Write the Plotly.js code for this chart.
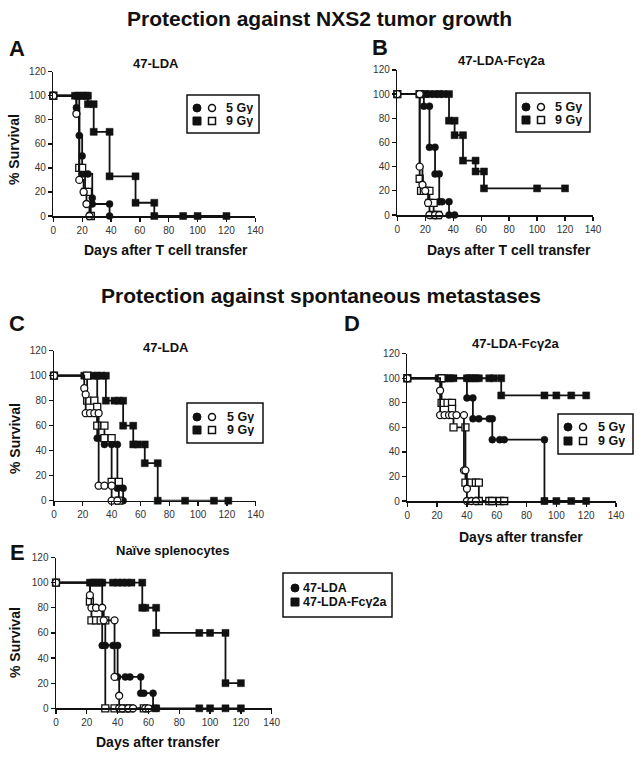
<!DOCTYPE html>
<html>
<head>
<meta charset="utf-8">
<script src="https://cdn.plot.ly/plotly-3.0.1.min.js"></script>
<style>html,body{margin:0;padding:0;background:#fff;}#chart{width:643px;height:758px;}</style>
</head>
<body>
<div id="chart"></div>
<script>
// ---------- DATA (days, % survival) ----------
const xTicks = [0, 20, 40, 60, 80, 100, 120, 140];
const yTicks = [0, 20, 40, 60, 80, 100, 120];

// Panel A: 47-LDA, NXS2 tumor growth
const A_circFilled_x = [0, 16, 16, 18, 20, 20, 24, 27, 27, 39, 39];
const A_circFilled_y = [100, 100, 90, 67, 50, 35, 35, 15, 10, 10, 0];
const A_circOpen_x = [0, 16, 18, 21, 23, 25];
const A_circOpen_y = [100, 85, 30, 20, 10, 0];
const A_sqFilled_x = [0, 15, 17, 19, 21, 23, 24, 24, 28, 28, 39, 39, 57, 57, 70, 70, 90, 100, 120];
const A_sqFilled_y = [100, 100, 100, 100, 100, 100, 100, 93, 93, 70, 70, 33, 33, 11, 11, 0, 0, 0, 0];
const A_sqOpen_x = [0, 18, 20, 22, 24, 26];
const A_sqOpen_y = [100, 40, 40, 20, 20, 0];

// Panel B: 47-LDA-Fcγ2a, NXS2 tumor growth
const B_circFilled_x = [0, 19, 19, 23, 23, 27, 27, 30, 30, 32, 37, 37, 41];
const B_circFilled_y = [100, 100, 90, 90, 56, 56, 34, 34, 11, 11, 11, 0, 0];
const B_circOpen_x = [0, 16, 16, 18, 20, 22, 23, 27, 30];
const B_circOpen_y = [100, 100, 40, 25, 20, 10, 0, 0, 0];
const B_sqFilled_x = [0, 16, 20, 23, 27, 30, 33, 37, 37, 41, 41, 47, 47, 56, 56, 62, 62, 100, 120];
const B_sqFilled_y = [100, 100, 100, 100, 100, 100, 100, 100, 78, 78, 66, 66, 45, 45, 36, 36, 22, 22, 22];
const B_sqOpen_x = [0, 16, 16, 17, 19, 21, 23, 23, 26, 26, 29];
const B_sqOpen_y = [100, 100, 30, 20, 20, 20, 20, 10, 10, 0, 0];

// Panel C: 47-LDA, spontaneous metastases
const C_circFilled_x = [0, 30, 30, 33, 35, 40, 44, 44, 48, 48];
const C_circFilled_y = [100, 100, 50, 50, 45, 45, 45, 10, 10, 0];
const C_circOpen_x = [0, 21, 22, 22, 25, 28, 31, 31, 35, 40, 40, 44];
const C_circOpen_y = [100, 90, 85, 70, 70, 70, 70, 12, 12, 12, 0, 0];
const C_sqFilled_x = [0, 21, 24, 27, 30, 33, 36, 36, 42, 45, 48, 48, 55, 55, 58, 63, 63, 72, 72, 91, 111, 121];
const C_sqFilled_y = [100, 100, 100, 100, 100, 100, 100, 80, 80, 80, 80, 60, 60, 45, 45, 45, 30, 30, 0, 0, 0, 0];
const C_sqOpen_x = [0, 23, 23, 28, 30, 30, 35, 35, 40, 40, 45, 45];
const C_sqOpen_y = [100, 100, 80, 80, 75, 60, 60, 50, 50, 15, 15, 0];

// Panel D: 47-LDA-Fcγ2a, spontaneous metastases
const D_circFilled_x = [0, 40, 40, 44, 44, 48, 55, 57, 57, 62, 65, 92, 92];
const D_circFilled_y = [100, 100, 84, 84, 67, 67, 67, 67, 50, 50, 50, 50, 0];
const D_circOpen_x = [0, 22, 22, 25, 28, 30, 33, 38, 38, 39, 40, 40, 43, 46];
const D_circOpen_y = [100, 90, 70, 70, 70, 70, 70, 70, 25, 25, 10, 0, 0, 0];
const D_sqFilled_x = [0, 21, 23, 25, 27, 29, 31, 40, 42, 44, 46, 48, 55, 58, 63, 63, 92, 100, 110, 120];
const D_sqFilled_y = [100, 100, 100, 100, 100, 100, 100, 100, 100, 100, 100, 100, 100, 100, 100, 86, 86, 86, 86, 86];
const D_sqOpen_x = [0, 23, 23, 27, 30, 30, 31, 39, 39, 43, 46, 48, 48, 55, 57, 62, 65];
const D_sqOpen_y = [100, 100, 80, 80, 80, 75, 60, 60, 15, 15, 15, 15, 0, 0, 0, 0, 0];
const D_bottom_x = [92, 100, 110, 120];
const D_bottom_y = [0, 0, 0, 0];

// Panel E: naive splenocytes
const E_circFilled_x = [0, 30, 30, 32, 37, 40, 40, 45, 48, 55, 55, 57, 63, 63, 65];
const E_circFilled_y = [100, 100, 50, 50, 50, 50, 25, 25, 25, 25, 12, 12, 12, 0, 0];
const E_circOpen_x = [0, 22, 23, 26, 30, 31, 38, 38, 41, 41, 43, 47, 50, 58, 60];
const E_circOpen_y = [100, 90, 80, 80, 80, 70, 70, 25, 10, 0, 0, 0, 0, 0, 0];
const E_sqFilled_x = [0, 22, 24, 26, 28, 30, 37, 40, 43, 46, 49, 56, 56, 58, 65, 65, 93, 100, 110, 110, 120];
const E_sqFilled_y = [100, 100, 100, 100, 100, 100, 100, 100, 100, 100, 100, 100, 80, 80, 80, 60, 60, 60, 60, 20, 20];
const E_sqOpen_x = [0, 22, 23, 26, 29, 32, 32, 38, 42, 45, 48, 57];
const E_sqOpen_y = [100, 85, 70, 70, 70, 70, 0, 0, 0, 0, 0, 0];
const E_bottom_x = [65, 93, 100, 110, 120];
const E_bottom_y = [0, 0, 0, 0, 0];

const legendLabels = ['5 Gy', '9 Gy'];
const legendLabelsE = ['47-LDA', '47-LDA-Fcγ2a'];

// ---------- LAYOUT HELPERS ----------
const W = 643, H = 758;
const px = v => v / W;
const py = v => 1 - v / H;
const FONT = 'Arial, "Liberation Sans", Helvetica, sans-serif';

function style(kind) {
  const filled = kind.indexOf('Filled') >= 0;
  const sym = kind.indexOf('circ') === 0 ? 'circle' : 'square';
  return {
    symbol: sym, size: 7,
    color: filled ? '#111' : '#fff',
    line: {color: '#111', width: filled ? 0.5 : 1.3}
  };
}
function tr(x, y, kind, xa, ya) {
  return {
    type: 'scatter', mode: 'lines+markers', x: x, y: y,
    xaxis: xa, yaxis: ya, cliponaxis: false, showlegend: false,
    line: {shape: 'hv', color: '#111', width: 1.8},
    marker: style(kind), hoverinfo: 'x+y'
  };
}

const traces = [
  tr(A_sqFilled_x, A_sqFilled_y, 'sqFilled', 'x', 'y'),
  tr(A_circFilled_x, A_circFilled_y, 'circFilled', 'x', 'y'),
  tr(A_sqOpen_x, A_sqOpen_y, 'sqOpen', 'x', 'y'),
  tr(A_circOpen_x, A_circOpen_y, 'circOpen', 'x', 'y'),

  tr(B_sqFilled_x, B_sqFilled_y, 'sqFilled', 'x2', 'y2'),
  tr(B_circFilled_x, B_circFilled_y, 'circFilled', 'x2', 'y2'),
  tr(B_sqOpen_x, B_sqOpen_y, 'sqOpen', 'x2', 'y2'),
  tr(B_circOpen_x, B_circOpen_y, 'circOpen', 'x2', 'y2'),

  tr(C_sqFilled_x, C_sqFilled_y, 'sqFilled', 'x3', 'y3'),
  tr(C_circFilled_x, C_circFilled_y, 'circFilled', 'x3', 'y3'),
  tr(C_sqOpen_x, C_sqOpen_y, 'sqOpen', 'x3', 'y3'),
  tr(C_circOpen_x, C_circOpen_y, 'circOpen', 'x3', 'y3'),

  tr(D_sqFilled_x, D_sqFilled_y, 'sqFilled', 'x4', 'y4'),
  tr(D_circFilled_x, D_circFilled_y, 'circFilled', 'x4', 'y4'),
  tr(D_bottom_x, D_bottom_y, 'sqFilled', 'x4', 'y4'),
  tr(D_sqOpen_x, D_sqOpen_y, 'sqOpen', 'x4', 'y4'),
  tr(D_circOpen_x, D_circOpen_y, 'circOpen', 'x4', 'y4'),

  tr(E_sqFilled_x, E_sqFilled_y, 'sqFilled', 'x5', 'y5'),
  tr(E_circFilled_x, E_circFilled_y, 'circFilled', 'x5', 'y5'),
  tr(E_bottom_x, E_bottom_y, 'sqFilled', 'x5', 'y5'),
  tr(E_sqOpen_x, E_sqOpen_y, 'sqOpen', 'x5', 'y5'),
  tr(E_circOpen_x, E_circOpen_y, 'circOpen', 'x5', 'y5')
];

function xa(d0, d1, anchor) {
  return {
    domain: [px(d0), px(d1)], anchor: anchor, range: [0, 140],
    tickvals: xTicks, ticktext: xTicks.map(String),
    ticks: 'outside', ticklen: 4, tickwidth: 1.3, tickcolor: '#111',
    showline: true, linecolor: '#111', linewidth: 1.5,
    showgrid: false, zeroline: false,
    tickfont: {family: FONT, size: 10, color: '#333'}
  };
}
function ya(d0, d1, anchor) {
  return {
    domain: [py(d0), py(d1)], anchor: anchor, range: [0, 120],
    tickvals: yTicks, ticktext: yTicks.map(String),
    ticks: 'outside', ticklen: 4, tickwidth: 1.3, tickcolor: '#111',
    showline: true, linecolor: '#111', linewidth: 1.5,
    showgrid: false, zeroline: false,
    tickfont: {family: FONT, size: 10, color: '#333'}
  };
}

function ann(text, x, y, size, opts) {
  return Object.assign({
    text: text, x: px(x), y: py(y), xref: 'paper', yref: 'paper',
    showarrow: false, xanchor: 'center', yanchor: 'middle',
    font: {family: FONT, size: size, color: '#111', weight: 'bold'}
  }, opts || {});
}

const annotations = [
  ann('<b>Protection against NXS2 tumor growth</b>', 319, 19, 21),
  ann('<b>Protection against spontaneous metastases</b>', 321, 296, 21),
  ann('<b>A</b>', 17, 48, 22),
  ann('<b>B</b>', 380, 47, 22),
  ann('<b>C</b>', 17, 323, 22),
  ann('<b>D</b>', 352, 323, 22),
  ann('<b>E</b>', 17, 552, 22),
  ann('<b>47-LDA</b>', 156, 63, 13),
  ann('<b>47-LDA-Fcγ2a</b>', 501, 61, 13),
  ann('<b>47-LDA</b>', 166, 347, 13),
  ann('<b>47-LDA-Fcγ2a</b>', 515, 343, 13),
  ann('<b>Naïve splenocytes</b>', 172, 550, 13),
  ann('<b>Days after T cell transfer</b>', 166, 250, 14),
  ann('<b>Days after T cell transfer</b>', 509, 250, 14),
  ann('<b>Days after transfer</b>', 521, 537, 14),
  ann('<b>Days after transfer</b>', 158, 742, 14),
  ann('<b>% Survival</b>', 14, 150, 14, {textangle: -90}),
  ann('<b>% Survival</b>', 15, 439, 14, {textangle: -90}),
  ann('<b>% Survival</b>', 15, 643, 14, {textangle: -90})
];

const shapes = [];
// legend helper: box + symbols + labels
function legend(x0, y0, x1, y1, rows, symX, textX, fsize, single) {
  shapes.push({type: 'rect', xref: 'paper', yref: 'paper',
    x0: px(x0), x1: px(x1), y0: py(y1), y1: py(y0),
    line: {color: '#111', width: 1.5}, fillcolor: '#fff', layer: 'above'});
  rows.forEach(r => {
    const s = 4;
    const shp = r.sym === 'circle' ? 'circle' : 'rect';
    shapes.push({type: shp, xref: 'paper', yref: 'paper',
      x0: px(symX[0] - s), x1: px(symX[0] + s), y0: py(r.y + s), y1: py(r.y - s),
      line: {color: '#111', width: 1}, fillcolor: '#111', layer: 'above'});
    if (!single) {
      shapes.push({type: shp, xref: 'paper', yref: 'paper',
        x0: px(symX[1] - s + 0.5), x1: px(symX[1] + s - 0.5), y0: py(r.y + s - 0.5), y1: py(r.y - s + 0.5),
        line: {color: '#111', width: 1.5}, fillcolor: '#fff', layer: 'above'});
    }
    annotations.push(ann('<b>' + r.label + '</b>', textX, r.y, fsize,
      {xanchor: 'left', height: 12, borderpad: 0}));
  });
}
legend(187, 95, 259, 133, [{sym: 'circle', label: legendLabels[0], y: 108}, {sym: 'square', label: legendLabels[1], y: 121}], [197, 212], 225, 12.5);
legend(516, 93, 590, 132, [{sym: 'circle', label: legendLabels[0], y: 107}, {sym: 'square', label: legendLabels[1], y: 120}], [526, 541], 554, 12.5);
legend(187, 403, 263, 443, [{sym: 'circle', label: legendLabels[0], y: 417}, {sym: 'square', label: legendLabels[1], y: 430}], [197, 212], 226, 12.5);
legend(558, 414, 633, 454, [{sym: 'circle', label: legendLabels[0], y: 427}, {sym: 'square', label: legendLabels[1], y: 441}], [568, 583], 597, 12.5);
legend(283, 573, 392, 617, [{sym: 'circle', label: legendLabelsE[0], y: 588}, {sym: 'square', label: legendLabelsE[1], y: 602}], [295, 0], 302, 12.5, true);

const layout = {
  width: W, height: H,
  margin: {l: 0, r: 0, t: 0, b: 0},
  paper_bgcolor: '#fff', plot_bgcolor: 'rgba(0,0,0,0)',
  showlegend: false,
  font: {family: FONT, color: '#111'},
  xaxis: xa(53.3, 255.3, 'y'),   yaxis: ya(216, 71.7, 'x'),
  xaxis2: xa(397.3, 593, 'y2'),  yaxis2: ya(215, 69.9, 'x2'),
  xaxis3: xa(54, 255.7, 'y3'),   yaxis3: ya(500.7, 350.7, 'x3'),
  xaxis4: xa(407.3, 616, 'y4'),  yaxis4: ya(501, 353.7, 'x4'),
  xaxis5: xa(56, 271.7, 'y5'),   yaxis5: ya(708.3, 557.5, 'x5'),
  annotations: annotations,
  shapes: shapes
};

Plotly.newPlot('chart', traces, layout, {staticPlot: true, displayModeBar: false});
</script>
</body>
</html>
